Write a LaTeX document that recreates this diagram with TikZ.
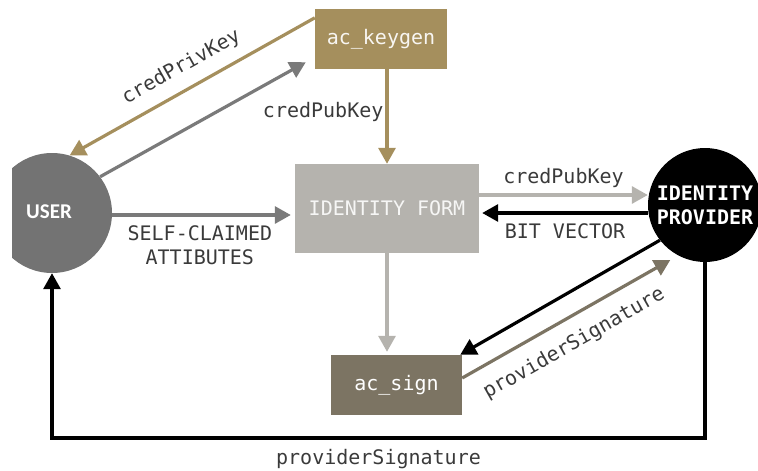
\documentclass[tikz,border=0pt]{standalone}
\usepackage{fontspec}
\setmainfont{Carlito}
\newfontfamily\monof{DejaVu Sans Mono}
\usetikzlibrary{arrows.meta}
\definecolor{gold}{HTML}{A58F5D}
\definecolor{formgray}{HTML}{B5B3AE}
\definecolor{usergray}{HTML}{737373}
\definecolor{signbrown}{HTML}{7C7463}
\definecolor{linkgray}{HTML}{7A7A7A}
\definecolor{labelc}{HTML}{3A3A3A}
\tikzset{
  box/.style={rectangle, inner sep=0pt, font=\monof\fontsize{20}{24}\selectfont},
  lbl/.style={font=\monof\fontsize{20}{24}\selectfont, text=labelc, inner sep=0pt, align=center},
  arr/.style={line width=3.2pt, -{Triangle[length=16pt,width=17pt]}},
}
\begin{document}
\begin{tikzpicture}[x=1pt, y=-1pt]
\useasboundingbox (0,0) rectangle (758,471);

% actors and processing blocks
\begin{scope}
  \clip (12,0) rectangle (758,471);
  \node[circle, fill=usergray, minimum size=120pt, inner sep=0pt] (user) at (52,213) {};
\end{scope}
\node[font=\bfseries\fontsize{21}{26}\selectfont, text=white] (usertxt) at (49,212) {USER};
\node[circle, fill=black, minimum size=114pt, inner sep=0pt, text=white,
      font=\monof\bfseries\fontsize{20}{24}\selectfont, align=center] (idp) at (705,205) {IDENTITY\\PROVIDER};
\node[box, fill=gold, minimum width=132pt, minimum height=60pt, text=white!92!gold] (keygen) at (381,39) {ac\_keygen};
\node[box, fill=formgray, minimum width=184pt, minimum height=89pt, text=white!88!formgray] (form) at (387,208.5) {IDENTITY FORM};
\node[box, fill=signbrown, minimum width=131pt, minimum height=60pt, text=white] (sign) at (396.5,385) {ac\_sign};

% connector end points
\coordinate (low) at (0,438);
\coordinate (kgtip) at ([xshift=-9pt,yshift=7pt]keygen.south west);
\coordinate (userout) at ([yshift=-2pt]user.east);
\coordinate (formup) at ([yshift=13.5pt]form.east);
\coordinate (formdown) at ([yshift=-4.5pt,xshift=3pt]form.east);

% connectors
\draw[arr, gold] ([yshift=-9pt]keygen.north west) -- (user.73)
  node[lbl, pos=0.5, above=11pt, sloped] (lprivkey) {credPrivKey};
\draw[arr, linkgray] (user.37) -- (kgtip);
\draw[arr, gold] (form.north |- keygen.south) -- (form.north)
  node[lbl, pos=0.45, left=2pt] (lpubkey1) {credPubKey};
\draw[arr, linkgray, shorten >=4pt] (userout) -- (form.west |- userout)
  node[lbl, pos=0.48, below=9pt] (lattr) {SELF-CLAIMED\\ATTIBUTES};
\draw[arr, formgray] (formup) -- (idp.west |- formup)
  node[lbl, midway, above=6pt] (lpubkey2) {credPubKey};
\draw[arr, black] (idp.west |- formdown) -- (formdown)
  node[lbl, midway, below=9pt] (lbits) {BIT VECTOR};
\draw[arr, formgray, shorten >=3pt] (form.south) -- (form.south |- sign.north);
\draw[arr, black] (idp.218) -- ([xshift=-2pt]sign.north east);
\draw[arr, signbrown, shorten >=9pt] ([yshift=7pt]sign.east) -- (idp.242)
  node[lbl, pos=0.46, below=14pt, sloped] (lsig1) {providerSignature};
\draw[arr, black] (idp.south) -- (idp.south |- low) -- (user.south |- low)
  node[lbl, pos=0.5, below=10pt] (lsig2) {providerSignature} -- (user.south);
\end{tikzpicture}
\end{document}
